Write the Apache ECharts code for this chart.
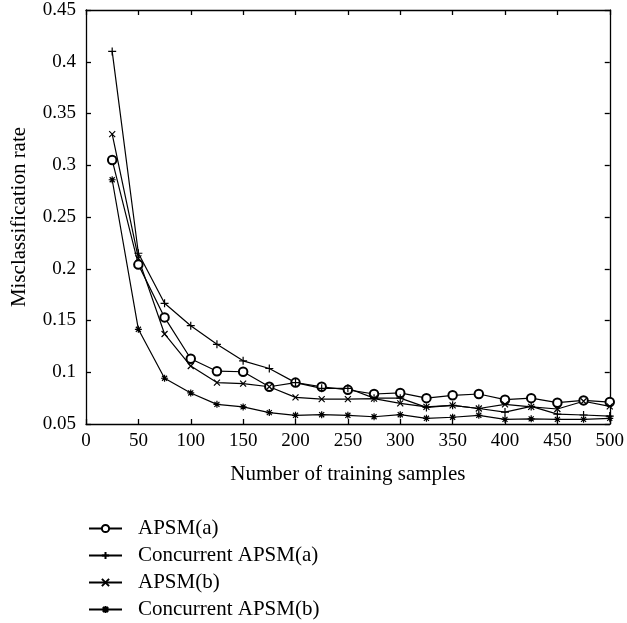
<!DOCTYPE html>
<html>
<head>
<meta charset="utf-8">
<script src="https://cdn.jsdelivr.net/npm/echarts@6/dist/echarts.min.js"></script>
<style>
html,body{margin:0;padding:0;background:#fff;}
#chart{width:627px;height:623px;}
</style>
</head>
<body>
<div id="chart"></div>
<script>
var samples = [25,50,75,100,125,150,175,200,225,250,275,300,325,350,375,400,425,450,475,500];
var apsmA = [0.305,0.204,0.153,0.113,0.101,0.1005,0.086,0.090,0.086,0.083,0.079,0.080,0.075,0.0777,0.079,0.0735,0.075,0.0706,0.0728,0.0712];
var concA = [0.41,0.215,0.1666,0.145,0.127,0.111,0.1036,0.090,0.0845,0.0845,0.075,0.075,0.066,0.068,0.065,0.0615,0.067,0.0595,0.0587,0.0577];
var apsmB = [0.33,0.21,0.137,0.106,0.090,0.089,0.086,0.0757,0.074,0.074,0.0745,0.070,0.0665,0.068,0.065,0.069,0.0665,0.0645,0.072,0.067];
var concB = [0.286,0.1415,0.0942,0.080,0.069,0.0665,0.061,0.0584,0.059,0.0584,0.057,0.059,0.0555,0.0565,0.0584,0.0545,0.055,0.0545,0.0545,0.0555];
var seriesNames = ['APSM(a)','Concurrent APSM(a)','APSM(b)','Concurrent APSM(b)'];
var xTicks = [0,50,100,150,200,250,300,350,400,450,500];
var yTicks = [0.05,0.1,0.15,0.2,0.25,0.3,0.35,0.4,0.45];

var FONT = '"Liberation Serif", "DejaVu Serif", serif';
function pairs(vals){ return samples.map(function(x,i){ return [x, vals[i]]; }); }

var plusPath = 'path://M5,0L5,10M0,5L10,5';
var crossPath = 'path://M0,0L10,10M10,0L0,10';
var starPath = 'path://M5,0L5,10M0,5L10,5M1.4,1.4L8.6,8.6M8.6,1.4L1.4,8.6';

function mk(name, vals, symbol, size){
  return {
    name: name, type: 'line', data: pairs(vals),
    xAxisIndex: 0, yAxisIndex: 0,
    symbol: symbol, symbolSize: size, showAllSymbol: true,
    lineStyle: {color: '#000', width: 1.2},
    itemStyle: {color: '#000', borderColor: '#000', borderWidth: 1.2},
    emphasis: {disabled: true},
    animation: false
  };
}

var baseAxis = {
  axisLine: {show: true, onZero: false, lineStyle: {color: '#000', width: 1.3}},
  axisTick: {show: true, inside: true, length: 5, lineStyle: {color: '#000', width: 1.3}},
  splitLine: {show: false}
};

var chart = echarts.init(document.getElementById('chart'), null, {renderer: 'canvas'});
chart.setOption({
  backgroundColor: '#fff',
  animation: false,
  grid: {left: 86, right: 15, top: 10, bottom: 199, containLabel: false},
  legend: {
    orient: 'vertical', left: 88, top: 518, padding: 0,
    itemWidth: 33, itemHeight: 9, itemGap: 6,
    data: seriesNames,
    textStyle: {fontFamily: FONT, fontSize: 21, color: '#000', padding: [0, 0, 0, 11]},
    selectedMode: false
  },
  xAxis: [
    Object.assign({}, baseAxis, {
      type: 'value', position: 'bottom', min: 0, max: 500, interval: 50,
      name: 'Number of training samples', nameLocation: 'middle', nameGap: 40,
      nameTextStyle: {fontFamily: FONT, fontSize: 21, color: '#000'},
      axisLabel: {show: true, margin: 8, fontFamily: FONT, fontSize: 19, color: '#000'}
    }),
    Object.assign({}, baseAxis, {
      type: 'value', position: 'top', min: 0, max: 500, interval: 50,
      axisLabel: {show: false}
    })
  ],
  yAxis: [
    Object.assign({}, baseAxis, {
      type: 'value', position: 'left', min: 0.05, max: 0.45, interval: 0.05,
      name: 'Misclassification rate', nameLocation: 'middle', nameGap: 56,
      nameTextStyle: {fontFamily: FONT, fontSize: 21, color: '#000'},
      axisLabel: {show: true, margin: 10, fontFamily: FONT, fontSize: 19, color: '#000',
        formatter: function(v){ return String(parseFloat(v.toFixed(2))); }}
    }),
    Object.assign({}, baseAxis, {
      type: 'value', position: 'right', min: 0.05, max: 0.45, interval: 0.05,
      axisLabel: {show: false}
    })
  ],
  series: [
    mk(seriesNames[0], apsmA, 'emptyCircle', 8.5),
    mk(seriesNames[1], concA, plusPath, 8),
    mk(seriesNames[2], apsmB, crossPath, 6),
    mk(seriesNames[3], concB, starPath, 7)
  ]
});
</script>
</body>
</html>
